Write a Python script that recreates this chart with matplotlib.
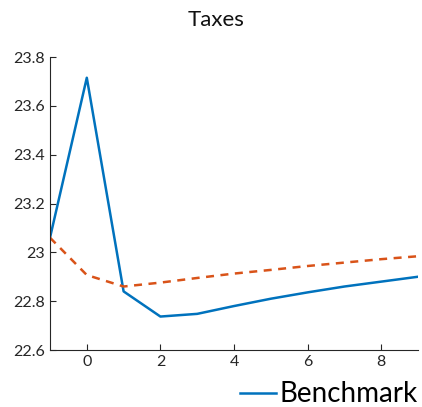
import numpy as np
import matplotlib.pyplot as plt

plt.rcParams['font.family'] = ['Lato', 'DejaVu Sans']

periods = [-1, 0, 1, 2, 3, 4, 5, 6, 7, 8, 9]
benchmark = [23.06, 23.715, 22.84, 22.737, 22.748, 22.78, 22.81, 22.836, 22.86, 22.88, 22.90]
alternative = [23.06, 22.907, 22.86, 22.876, 22.895, 22.913, 22.928, 22.944, 22.958, 22.972, 22.984]

fig = plt.figure(figsize=(4.22, 4.07), dpi=100)
ax = fig.add_axes([50 / 422, 57 / 407, 368 / 422, 293 / 407])

ax.plot(periods, benchmark, color='#0072BD', lw=1.8, label='Benchmark')
ax.plot(periods, alternative, color='#D95319', lw=1.8, ls=(0, (3.2, 2.6)))

ax.set_xlim(-1, 9)
ax.set_ylim(22.6, 23.8)
ax.set_xticks([0, 2, 4, 6, 8])
ax.set_yticks(np.arange(22.6, 23.81, 0.2))
ax.set_yticklabels(['22.6', '22.8', '23', '23.2', '23.4', '23.6', '23.8'])
ax.tick_params(direction='in', length=4, width=0.8, labelsize=11.5, colors='#262626')
for side in ['top', 'right']:
    ax.spines[side].set_visible(False)
for side in ['left', 'bottom']:
    ax.spines[side].set_color('#262626')
    ax.spines[side].set_linewidth(0.8)

ax.set_title('Taxes', fontsize=16, x=0.45, pad=22, color='#111111')

fig.legend(loc='lower right', bbox_to_anchor=(1.048, -0.062), frameon=False,
           fontsize=20, handlelength=1.3, handletextpad=0.1)

fig.savefig('out.png', dpi=100)
